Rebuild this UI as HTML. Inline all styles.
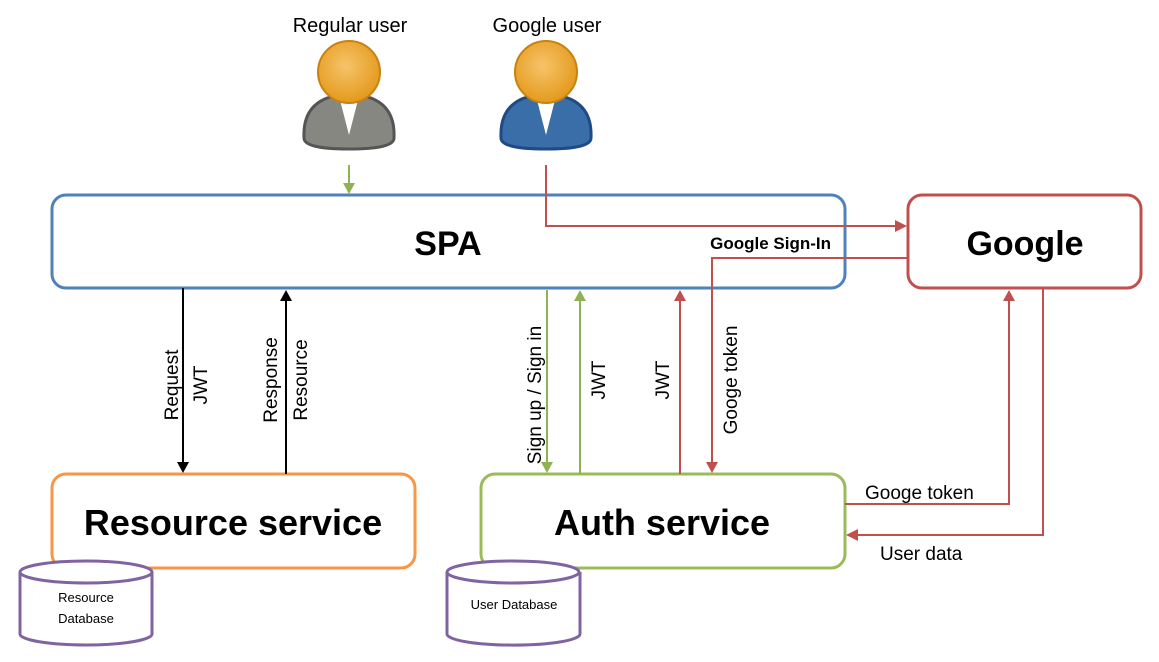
<!DOCTYPE html>
<html><head><style>
body{margin:0;background:#fff}
svg{display:block;font-family:"Liberation Sans",sans-serif}
</style></head><body>
<svg width="1159" height="662" viewBox="0 0 1159 662">
<defs>
<radialGradient id="head" cx="45%" cy="40%" r="60%"><stop offset="0" stop-color="#f7c36a"/><stop offset="1" stop-color="#e39a1c"/></radialGradient>
</defs>
<!-- users -->
<text x="350" y="32" font-size="20" text-anchor="middle">Regular user</text>
<text x="547" y="32" font-size="20" text-anchor="middle">Google user</text>
<g>
<path d="M304,138 Q302,96 349,94 Q396,96 394,138 Q394,149 349,149 Q304,149 304,138z" fill="#878782" stroke="#555" stroke-width="3"/>
<path d="M340,100 L349,135 L358,100z" fill="#fff"/>
<circle cx="349" cy="72" r="31" fill="url(#head)" stroke="#c98212" stroke-width="2"/>
<path d="M501,138 Q499,96 546,94 Q593,96 591,138 Q591,149 546,149 Q501,149 501,138z" fill="#3a6ea8" stroke="#1f4a85" stroke-width="3"/>
<path d="M537,100 L546,135 L555,100z" fill="#fff"/>
<circle cx="546" cy="72" r="31" fill="url(#head)" stroke="#c98212" stroke-width="2"/>
</g>
<!-- boxes -->
<rect x="52" y="195" width="793" height="93" rx="14" fill="#fff" stroke="#4f81bd" stroke-width="3"/>
<text x="448" y="255" font-size="34" font-weight="bold" text-anchor="middle">SPA</text>
<rect x="908" y="195" width="233" height="93" rx="14" fill="#fff" stroke="#c0504d" stroke-width="3"/>
<text x="1025" y="255" font-size="34" font-weight="bold" text-anchor="middle">Google</text>
<rect x="52" y="474" width="363" height="94" rx="14" fill="#fff" stroke="#f79646" stroke-width="3"/>
<text x="233" y="535" font-size="36" font-weight="bold" text-anchor="middle">Resource service</text>
<rect x="481" y="474" width="364" height="94" rx="14" fill="#fff" stroke="#9bbb59" stroke-width="3"/>
<text x="662" y="535" font-size="36" font-weight="bold" text-anchor="middle">Auth service</text>
<!-- cylinders -->
<g fill="#fff" stroke="#8064a2" stroke-width="3">
<path d="M20,572 L20,634 A66,11 0 0 0 152,634 L152,572"/>
<ellipse cx="86" cy="572" rx="66" ry="11"/>
<path d="M447,572 L447,634 A66,11 0 0 0 580,634 L580,572"/>
<ellipse cx="513" cy="572" rx="66" ry="11"/>
</g>
<text x="86" y="602" font-size="13" text-anchor="middle">Resource</text>
<text x="86" y="623" font-size="13" text-anchor="middle">Database</text>
<text x="514" y="609" font-size="13" text-anchor="middle">User Database</text>
<!-- green lines -->
<g stroke="#8db352" stroke-width="2" fill="none">
<line x1="349" y1="165" x2="349" y2="185"/>
<line x1="547" y1="290" x2="547" y2="464"/>
<line x1="580" y1="474" x2="580" y2="300"/>
</g>
<g fill="#8db352">
<path d="M343,183 L355,183 L349,194z"/>
<path d="M541,462 L553,462 L547,473z"/>
<path d="M574,301 L586,301 L580,290z"/>
</g>
<!-- black -->
<g stroke="#000" stroke-width="2"><line x1="183" y1="288" x2="183" y2="464"/><line x1="286" y1="474" x2="286" y2="300"/></g>
<path d="M177,462 L189,462 L183,473z"/><path d="M280,301 L292,301 L286,290z"/>
<!-- red -->
<g stroke="#c0504d" stroke-width="2" fill="none">
<polyline points="546,165 546,226 896,226"/>
<polyline points="908,258 712,258 712,464"/>
<line x1="680" y1="474" x2="680" y2="300"/>
<polyline points="845,504 1009,504 1009,300"/>
<polyline points="1043,288 1043,535 857,535"/>
</g>
<g fill="#c0504d">
<path d="M895,220 L895,232 L907,226z"/>
<path d="M706,462 L718,462 L712,473z"/>
<path d="M674,301 L686,301 L680,290z"/>
<path d="M1003,301 L1015,301 L1009,290z"/>
<path d="M858,529 L858,541 L846,535z"/>
</g>
<text x="831" y="249" font-size="17" font-weight="bold" text-anchor="end">Google Sign-In</text>
<text x="865" y="499" font-size="19">Googe token</text>
<text x="880" y="560" font-size="19">User data</text>
<!-- rotated labels -->
<g font-size="19" text-anchor="middle">
<text transform="translate(178,385) rotate(-90)">Request</text>
<text transform="translate(207,385) rotate(-90)">JWT</text>
<text transform="translate(277,380) rotate(-90)">Response</text>
<text transform="translate(307,380) rotate(-90)">Resource</text>
<text transform="translate(541,395) rotate(-90)">Sign up / Sign in</text>
<text transform="translate(605,380) rotate(-90)">JWT</text>
<text transform="translate(669,380) rotate(-90)">JWT</text>
<text transform="translate(737,380) rotate(-90)">Googe token</text>
</g>
</svg>
</body></html>
